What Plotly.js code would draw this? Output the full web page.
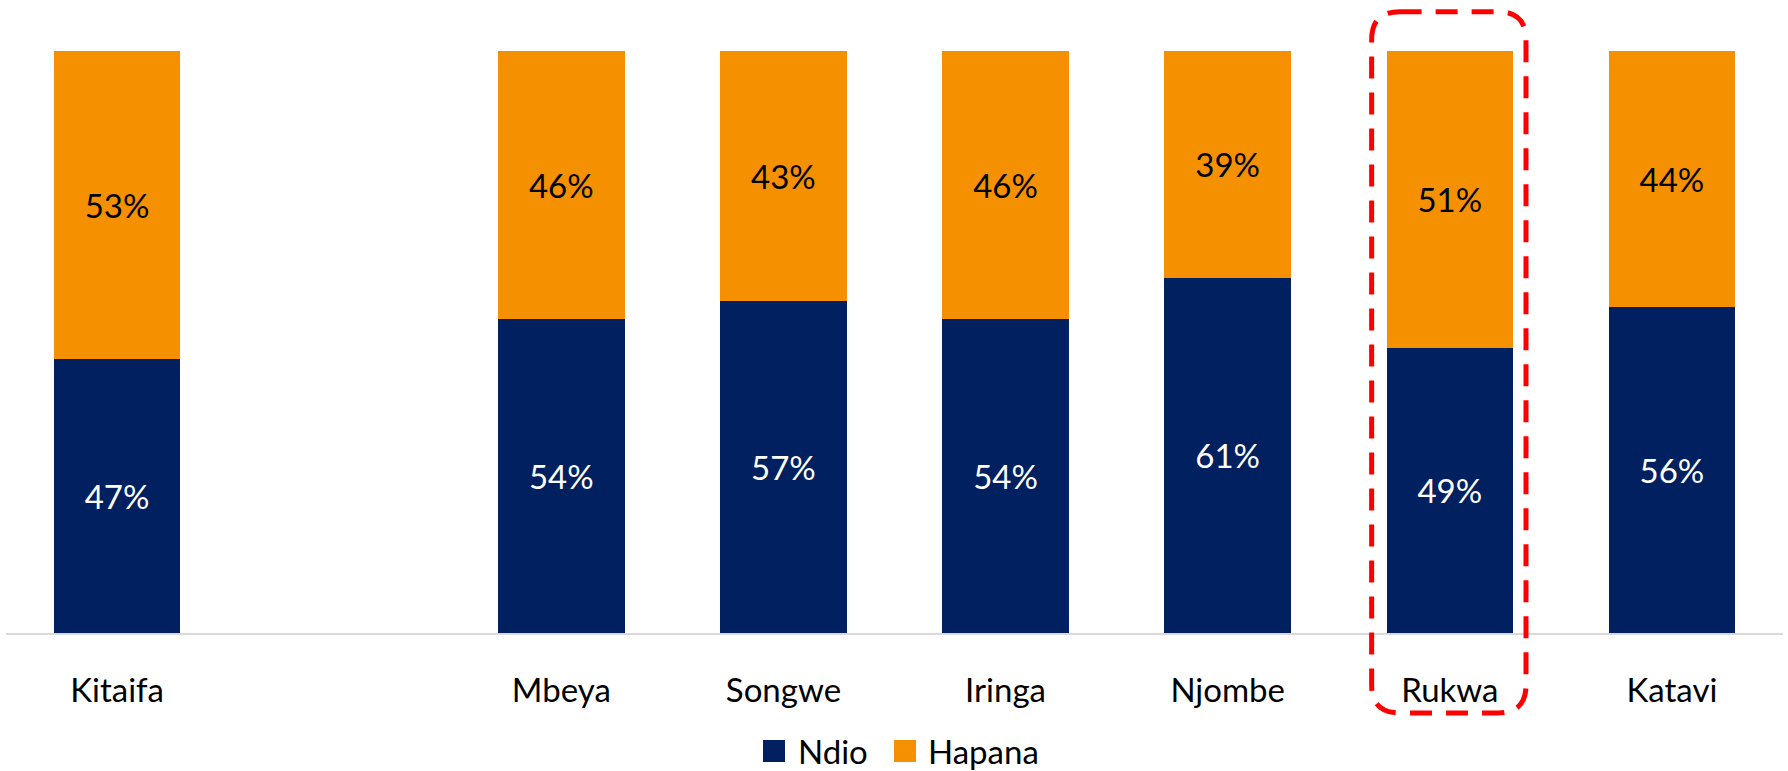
<!DOCTYPE html>
<html>
<head>
<meta charset="utf-8">
<script src="https://cdn.plot.ly/plotly-3.0.1.min.js"></script>
<style>
  html, body { margin: 0; padding: 0; background: #ffffff; }
  #chart { width: 1788px; height: 771px; }
</style>
</head>
<body>
<div id="chart"></div>
<script>
// ---- Data ----
const categories = ["Kitaifa", "Mbeya", "Songwe", "Iringa", "Njombe", "Rukwa", "Katavi"];
const ndio = [47, 54, 57, 54, 61, 49, 56];
const hapana = [53, 46, 43, 46, 39, 51, 44];
const seriesNames = ["Ndio", "Hapana"];
const highlighted = "Rukwa";

// ---- Layout helpers ----
const FONT = "Lato, 'Open Sans', 'DejaVu Sans', sans-serif";
const FS = 33;
const colors = ["#002060", "#F59100"];
// one empty slot after the national (Kitaifa) bar
const xpos = categories.map((c, i) => (i === 0 ? 0 : i + 1));
const nSlots = xpos[xpos.length - 1] + 1;

const W = 1788, H = 771;
const mL = 6, mR = 5, mT = 51, mB = 138;
const plotW = W - mL - mR, plotH = H - mT - mB;
const pxToPaperX = px => (px - mL) / plotW;
const pyToPaperY = py => (H - mB - py) / plotH;

const traces = [
  {
    type: "bar", name: seriesNames[0], x: xpos, y: ndio,
    marker: { color: colors[0] },
    text: ndio.map(v => v + "%"), texttemplate: "%{text}",
    textposition: "inside", insidetextanchor: "middle", textangle: 0,
    constraintext: "none",
    textfont: { family: FONT, size: FS, color: "#ffffff" },
    width: 0.57, showlegend: false, hoverinfo: "skip"
  },
  {
    type: "bar", name: seriesNames[1], x: xpos, y: hapana,
    marker: { color: colors[1] },
    text: hapana.map(v => v + "%"), texttemplate: "%{text}",
    textposition: "inside", insidetextanchor: "middle", textangle: 0,
    constraintext: "none",
    textfont: { family: FONT, size: FS, color: "#000000" },
    width: 0.57, showlegend: false, hoverinfo: "skip"
  }
];

// Highlight box around Rukwa (rounded dashed rectangle)
const hi = xpos[categories.indexOf(highlighted)];
const toPX = d => (d + 0.5) / nSlots;
const bx0 = toPX(hi - 0.352), bx1 = toPX(hi + 0.343);
const by1 = pyToPaperY(11.7), by0 = pyToPaperY(713);
const rx = 28 / plotW, ry = 28 / plotH;
const boxPath =
  `M ${bx0 + rx},${by1} L ${bx1 - rx},${by1} Q ${bx1},${by1} ${bx1},${by1 - ry} ` +
  `L ${bx1},${by0 + ry} Q ${bx1},${by0} ${bx1 - rx},${by0} ` +
  `L ${bx0 + rx},${by0} Q ${bx0},${by0} ${bx0},${by0 + ry} ` +
  `L ${bx0},${by1 - ry} Q ${bx0},${by1} ${bx0 + rx},${by1} Z`;

// Manual legend (large square swatches)
const legendItems = [
  { sq: [763, 785], tx: 796 },
  { sq: [894, 916], tx: 926 }
];
const legY0 = 740, legY1 = 762, legYc = 751;

const shapes = [
  {
    type: "path", xref: "paper", yref: "paper", path: boxPath,
    line: { color: "#FF0000", width: 5, dash: "22px,14px" },
    fillcolor: "rgba(0,0,0,0)", layer: "above"
  }
];
const annotations = [];
legendItems.forEach((it, i) => {
  shapes.push({
    type: "rect", xref: "paper", yref: "paper",
    x0: pxToPaperX(it.sq[0]), x1: pxToPaperX(it.sq[1]),
    y0: pyToPaperY(legY1), y1: pyToPaperY(legY0),
    fillcolor: colors[i], line: { width: 0 }
  });
  annotations.push({
    xref: "paper", yref: "paper", x: pxToPaperX(it.tx), y: pyToPaperY(legYc),
    xanchor: "left", yanchor: "middle", showarrow: false,
    text: seriesNames[i], font: { family: FONT, size: FS, color: "#000000" }
  });
});

const layout = {
  width: W, height: H,
  margin: { l: mL, r: mR, t: mT, b: mB, pad: 0 },
  paper_bgcolor: "#ffffff", plot_bgcolor: "#ffffff",
  barmode: "stack", bargap: 0.43,
  showlegend: false,
  xaxis: {
    range: [-0.5, nSlots - 0.5],
    tickmode: "array", tickvals: xpos, ticktext: categories,
    ticks: "", ticklabelstandoff: 27,
    showline: true, linecolor: "#d9d9d9", linewidth: 2,
    showgrid: false, zeroline: false, fixedrange: true,
    tickfont: { family: FONT, size: FS, color: "#000000" }
  },
  yaxis: {
    range: [0, 100], visible: false, showgrid: false, zeroline: false, fixedrange: true
  },
  shapes: shapes,
  annotations: annotations,
  font: { family: FONT }
};

Plotly.newPlot("chart", traces, layout, { displayModeBar: false, staticPlot: true });
</script>
</body>
</html>
